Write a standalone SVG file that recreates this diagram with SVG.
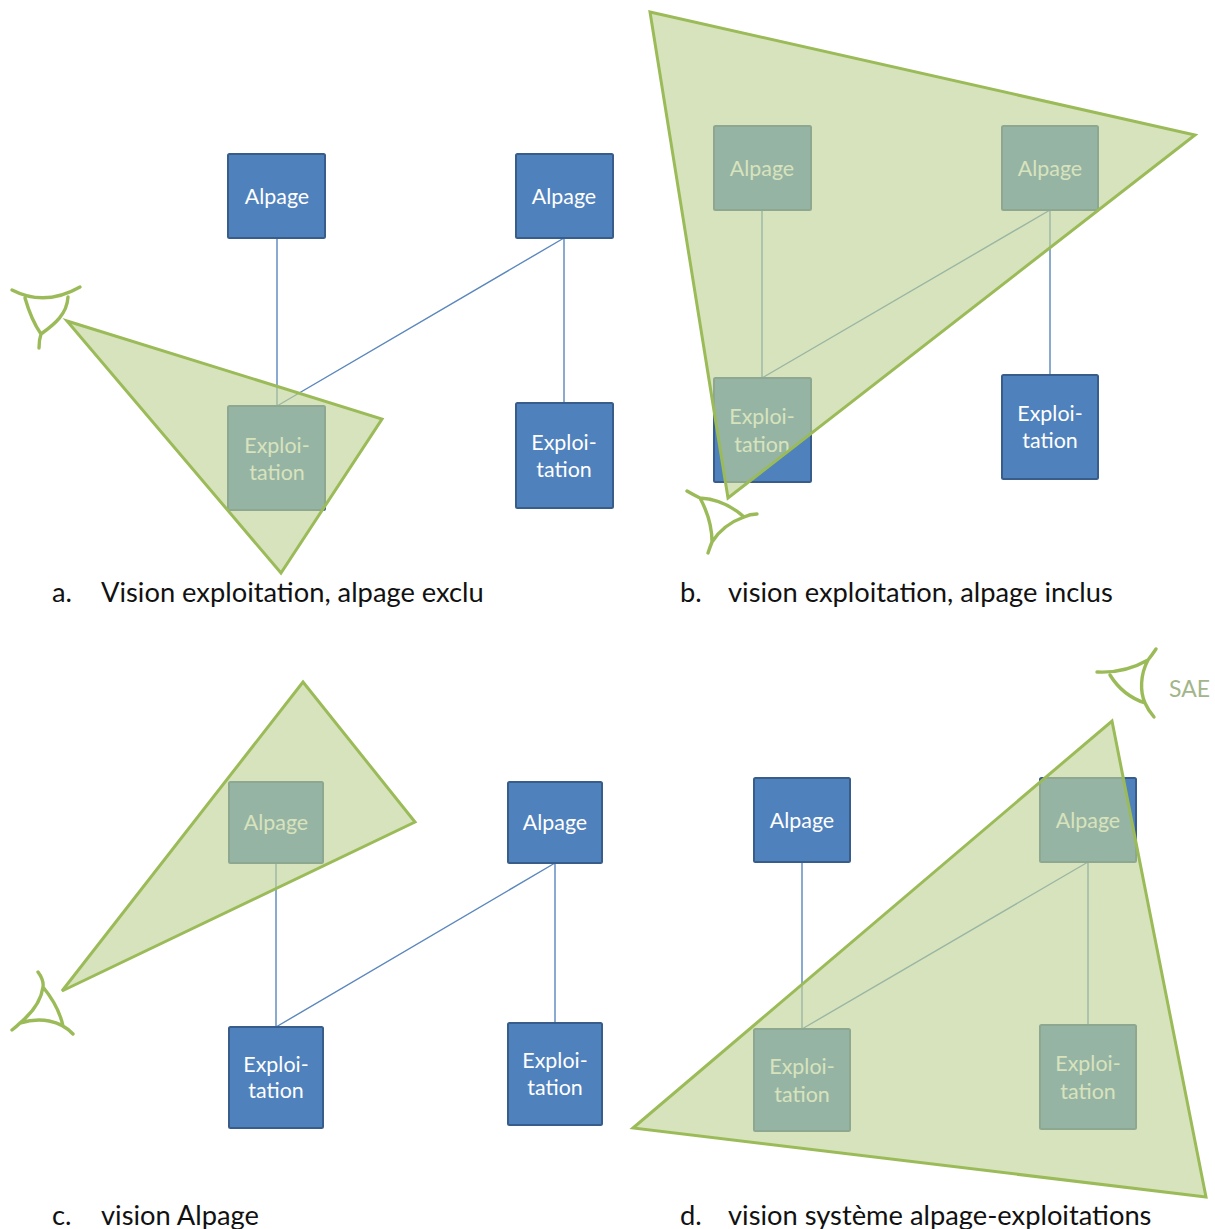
<svg xmlns="http://www.w3.org/2000/svg" width="1215" height="1229" viewBox="0 0 1215 1229">
<style>
.n{fill:#4f81bd;stroke:#385d8a;stroke-width:2;rx:1.5px}
.t{font-family:Lato,"Open Sans",sans-serif;font-size:21.4px;fill:#fff;text-anchor:middle}
.c{fill:none;stroke:#5b87bd;stroke-width:1.4}
.v{fill:#c0d295;fill-opacity:.63;stroke:#9bbb59;stroke-width:3;stroke-linejoin:miter}
.e{fill:none;stroke:#9bbb59;stroke-width:3.4;stroke-linecap:round}
.l{font-family:Lato,"Open Sans",sans-serif;font-size:27.3px;fill:#111}
.s{font-family:Lato,"Open Sans",sans-serif;font-size:23px;fill:#a3b58a}
</style>
<rect width="1215" height="1229" fill="#fff"/>
<g id="connectors">
<path class="c" d="M277,238V406M564,238V403M564,238L277,406"/>
<path class="c" d="M762,210V378M1050,210V375M1050,210L762,378"/>
<path class="c" d="M276,863V1027M555,863V1023M555,863L276,1027"/>
<path class="c" d="M802,862V1029M1088,862V1025M1088,862L802,1029"/>
</g>
<g id="a-alpage-1"><rect class="n" x="228" y="154" width="97" height="84"/><text class="t" x="277" y="204">Alpage</text></g>
<g id="a-alpage-2"><rect class="n" x="516" y="154" width="97" height="84"/><text class="t" x="564" y="204">Alpage</text></g>
<g id="a-exploitation-1"><rect class="n" x="228" y="406" width="97" height="104"/><text class="t" x="277" y="453">Exploi-</text><text class="t" x="277" y="480">tation</text></g>
<g id="a-exploitation-2"><rect class="n" x="516" y="403" width="97" height="105"/><text class="t" x="564" y="450">Exploi-</text><text class="t" x="564" y="477">tation</text></g>
<g id="b-alpage-1"><rect class="n" x="714" y="126" width="97" height="84"/><text class="t" x="762" y="176">Alpage</text></g>
<g id="b-alpage-2"><rect class="n" x="1002" y="126" width="96" height="84"/><text class="t" x="1050" y="176">Alpage</text></g>
<g id="b-exploitation-1"><rect class="n" x="714" y="378" width="97" height="104"/><text class="t" x="762" y="424">Exploi-</text><text class="t" x="762" y="452">tation</text></g>
<g id="b-exploitation-2"><rect class="n" x="1002" y="375" width="96" height="104"/><text class="t" x="1050" y="421">Exploi-</text><text class="t" x="1050" y="448">tation</text></g>
<g id="c-alpage-1"><rect class="n" x="229" y="782" width="94" height="81"/><text class="t" x="276" y="830">Alpage</text></g>
<g id="c-alpage-2"><rect class="n" x="508" y="782" width="94" height="81"/><text class="t" x="555" y="830">Alpage</text></g>
<g id="c-exploitation-1"><rect class="n" x="229" y="1027" width="94" height="101"/><text class="t" x="276" y="1072">Exploi-</text><text class="t" x="276" y="1098">tation</text></g>
<g id="c-exploitation-2"><rect class="n" x="508" y="1023" width="94" height="102"/><text class="t" x="555" y="1068">Exploi-</text><text class="t" x="555" y="1095">tation</text></g>
<g id="d-alpage-1"><rect class="n" x="754" y="778" width="96" height="84"/><text class="t" x="802" y="828">Alpage</text></g>
<g id="d-alpage-2"><rect class="n" x="1040" y="778" width="96" height="84"/><text class="t" x="1088" y="828">Alpage</text></g>
<g id="d-exploitation-1"><rect class="n" x="754" y="1029" width="96" height="102"/><text class="t" x="802" y="1074">Exploi-</text><text class="t" x="802" y="1102">tation</text></g>
<g id="d-exploitation-2"><rect class="n" x="1040" y="1025" width="96" height="104"/><text class="t" x="1088" y="1071">Exploi-</text><text class="t" x="1088" y="1099">tation</text></g>
<g id="view-a"><polygon class="v" points="67,321 382,419 281,573"/></g>
<g id="view-b"><polygon class="v" points="650,12 1195,135 728,498"/></g>
<g id="view-c"><polygon class="v" points="303,682 415,822 62,991"/></g>
<g id="view-d"><polygon class="v" points="1112,721 1206,1197 633,1128"/></g>
<g id="eye-a"><path class="e" d="M12,290Q45,307 80,287M25,298C29,312 34,324 41,334M68,297C67,314 55,324 41,334Q39,340 39,348"/></g>
<g id="eye-b"><path class="e" d="M687,491Q692,494 700,498C716,499 732,506 744,517Q750,514 757,514M700,498C707,511 712,526 712,542Q710,547 708,553M744,517C730,522 719,531 712,542"/></g>
<g id="eye-c"><path class="e" d="M38,972Q44,980 43,987C41,1002 32,1013 20,1023Q16,1027 12,1030M43,987C52,998 60,1012 63,1026M20,1023C40,1017 60,1020 73,1034"/></g>
<g id="eye-d"><path class="e" d="M1097,672C1116,673 1134,668 1148,660Q1152,655 1156,649M1148,660C1140,675 1140,692 1145,703Q1148,710 1154,717M1110,675C1118,688 1130,698 1145,703"/></g>
<text class="s" x="1169" y="697">SAE</text>
<g id="captions">
<text class="l" x="52" y="602">a.</text><text class="l" x="101" y="602">Vision exploitation, alpage exclu</text>
<text class="l" x="680" y="602">b.</text><text class="l" x="728" y="602">vision exploitation, alpage inclus</text>
<text class="l" x="52" y="1225">c.</text><text class="l" x="101" y="1225">vision Alpage</text>
<text class="l" x="680" y="1225">d.</text><text class="l" x="728" y="1225">vision système alpage-exploitations</text>
</g>
</svg>
